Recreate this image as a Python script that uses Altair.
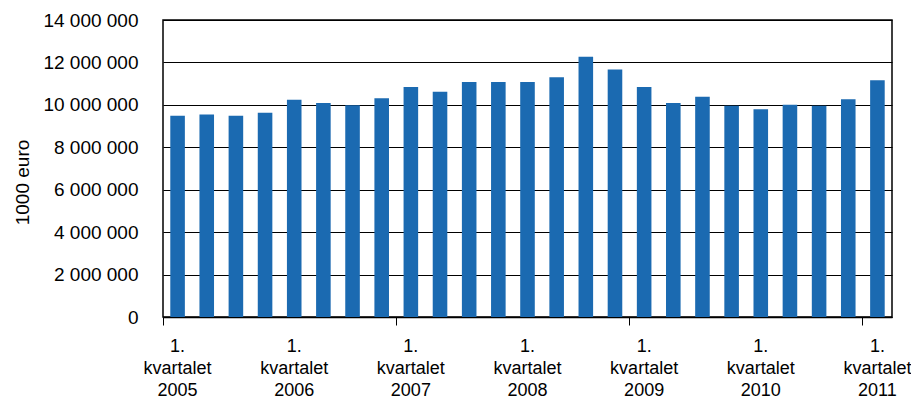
import altair as alt
import pandas as pd

periods = [f"{y}K{q}" for y in range(2005, 2011) for q in (1, 2, 3, 4)] + ["2011K1"]
values = [9490000, 9550000, 9490000, 9630000,
          10240000, 10090000, 9980000, 10310000,
          10840000, 10620000, 11080000, 11080000,
          11080000, 11300000, 12270000, 11670000,
          10840000, 10090000, 10380000, 9960000,
          9790000, 10000000, 9960000, 10260000,
          11160000]
y_ticks = [0, 2000000, 4000000, 6000000, 8000000, 10000000, 12000000, 14000000]

df = pd.DataFrame({"period": periods, "value": values})

FONT = "Liberation Sans"

chart = alt.Chart(df).mark_bar(color="#1B6AB1", width={"band": 0.5}).encode(
    x=alt.X("period:N", sort=periods,
            scale=alt.Scale(paddingInner=0, paddingOuter=0),
            axis=alt.Axis(
                title=None, labelAngle=0, bandPosition=0,
                labelPadding=12, labelLineHeight=22,
                labelFont=FONT, labelFontSize=18, labelColor="#000",
                labelExpr="substring(datum.value,5,6)=='1' ? ['1.', 'kvartalet', substring(datum.value,0,4)] : ''",
                ticks=True, tickSize=8, tickColor="#000", tickWidth=1,
                tickOpacity={"condition": {"test": "substring(datum.value,5,6)=='1' && (toNumber(substring(datum.value,0,4))-2005)%2==0", "value": 1}, "value": 0},
                domain=True, domainColor="#000", domainWidth=1.5,
                grid=False, labelOverlap=False, labelFlush=False, labelBound=False)),
    y=alt.Y("value:Q",
            scale=alt.Scale(domain=[0, 14000000], nice=False),
            axis=alt.Axis(
                title="1000 euro", values=y_ticks,
                labelExpr="replace(replace(format(datum.value, ','), ',', ' '), ',', ' ')",
                labelFont=FONT, labelFontSize=19, labelColor="#000",
                labelPadding=25, ticks=False, tickSize=0, domain=False,
                grid=True, gridColor="#000", gridWidth=1,
                titleFont=FONT, titleFontSize=19, titleFontWeight="normal", titleColor="#000",
                titleAngle=270, titleAlign="center", titleBaseline="middle",
                titleX=-141, titleY=162)),
).properties(
    width=729, height=297,
    autosize=alt.AutoSizeParams(type="none"),
    padding={"left": 155, "top": 12, "right": 19, "bottom": 85},
).configure_view(stroke="#000", strokeWidth=1.5)

chart.save("out.html", embed_options={"renderer": "svg", "actions": False})
